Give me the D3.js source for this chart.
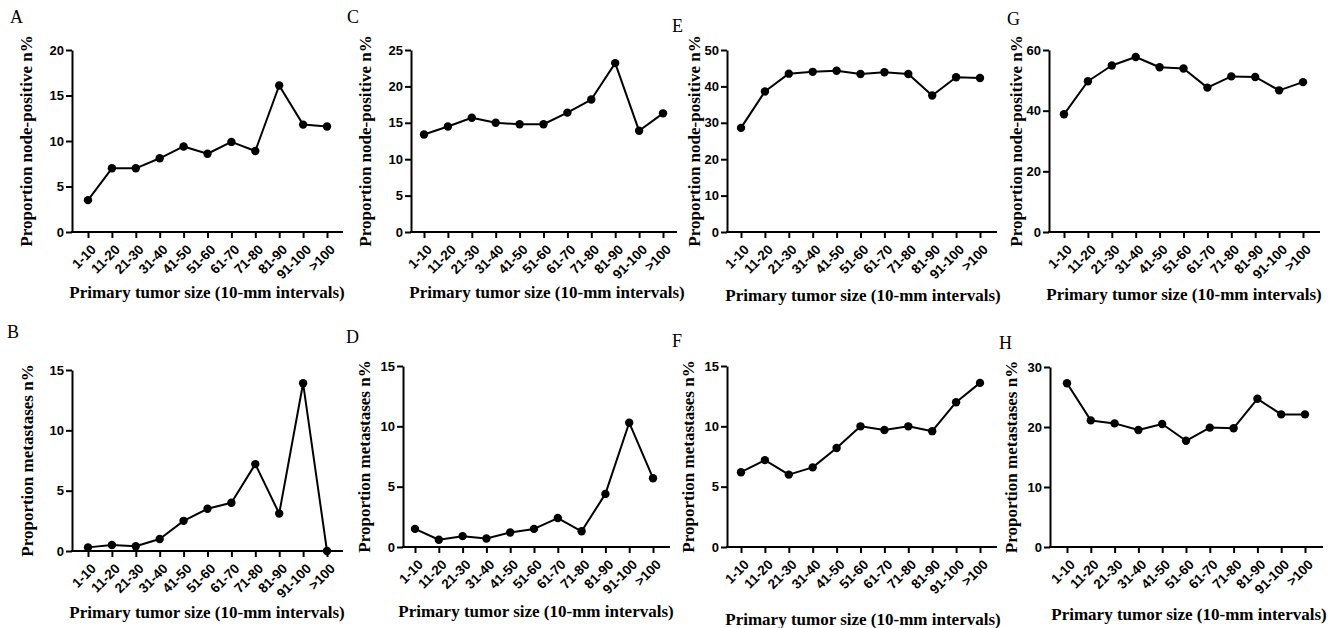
<!DOCTYPE html>
<html>
<head>
<meta charset="utf-8">
<script src="https://cdn.jsdelivr.net/npm/d3@7"></script>
<style>
  html, body { margin: 0; padding: 0; background: #fff; }
  svg { display: block; }
</style>
</head>
<body>
<svg id="chart" width="1344" height="628"></svg>
<script>
// ---------- DATA ----------
const categories = ["1-10", "11-20", "21-30", "31-40", "41-50", "51-60", "61-70", "71-80", "81-90", "91-100", ">100"];

const nodeA = [3.5, 7.0, 7.0, 8.1, 9.4, 8.6, 9.9, 8.9, 16.1, 11.8, 11.6];
const metB  = [0.3, 0.5, 0.4, 1.0, 2.5, 3.5, 4.0, 7.2, 3.1, 13.9, 0.0];
const nodeC = [13.4, 14.5, 15.7, 15.0, 14.8, 14.8, 16.4, 18.2, 23.2, 13.9, 16.3];
const metD  = [1.5, 0.6, 0.9, 0.7, 1.2, 1.5, 2.4, 1.3, 4.4, 10.3, 5.7];
const nodeE = [28.6, 38.6, 43.5, 44.0, 44.3, 43.4, 43.9, 43.4, 37.5, 42.5, 42.3];
const metF  = [6.2, 7.2, 6.0, 6.6, 8.2, 10.0, 9.7, 10.0, 9.6, 12.0, 13.6];
const nodeG = [38.8, 49.7, 54.9, 57.7, 54.3, 53.9, 47.6, 51.3, 51.1, 46.7, 49.4];
const metH  = [27.3, 21.1, 20.6, 19.5, 20.5, 17.7, 19.9, 19.8, 24.7, 22.1, 22.1];

const ticksA = [0, 5, 10, 15, 20];
const ticksB = [0, 5, 10, 15];
const ticksC = [0, 5, 10, 15, 20, 25];
const ticksD = [0, 5, 10, 15];
const ticksE = [0, 10, 20, 30, 40, 50];
const ticksF = [0, 5, 10, 15];
const ticksG = [0, 20, 40, 60];
const ticksH = [0, 10, 20, 30];

const yTitleNode = "Proportion node-positive n%";
const yTitleMet = "Proportion metastases n%";
const xTitle = "Primary tumor size (10-mm intervals)";

// ---------- LAYOUT ----------
const panels = [
  { letter: "A", values: nodeA, ticks: ticksA, yTitle: yTitleNode,
    x0: 72, x1: 88, x2: 327, xEnd: 343, yTop: 50, yBot: 232,
    yTitleX: 26, xTitleX: 207, xTitleY: 298, letterX: 10, letterY: 23 },
  { letter: "C", values: nodeC, ticks: ticksC, yTitle: yTitleNode,
    x0: 411, x1: 424, x2: 663, xEnd: 677, yTop: 50, yBot: 232,
    yTitleX: 365, xTitleX: 547, xTitleY: 298, letterX: 347, letterY: 23 },
  { letter: "E", values: nodeE, ticks: ticksE, yTitle: yTitleNode,
    x0: 727, x1: 741, x2: 980, xEnd: 997, yTop: 50, yBot: 232,
    yTitleX: 694, xTitleX: 863, xTitleY: 301, letterX: 672, letterY: 32 },
  { letter: "G", values: nodeG, ticks: ticksG, yTitle: yTitleNode,
    x0: 1049, x1: 1064, x2: 1303, xEnd: 1320, yTop: 50, yBot: 232,
    yTitleX: 1016, xTitleX: 1184, xTitleY: 300, letterX: 1007, letterY: 25 },
  { letter: "B", values: metB, ticks: ticksB, yTitle: yTitleMet,
    x0: 72, x1: 88, x2: 327, xEnd: 343, yTop: 370, yBot: 551,
    yTitleX: 27, xTitleX: 207, xTitleY: 618, letterX: 7, letterY: 338 },
  { letter: "D", values: metD, ticks: ticksD, yTitle: yTitleMet,
    x0: 403, x1: 415, x2: 653, xEnd: 670, yTop: 366, yBot: 547,
    yTitleX: 364, xTitleX: 536, xTitleY: 617, letterX: 346, letterY: 343 },
  { letter: "F", values: metF, ticks: ticksF, yTitle: yTitleMet,
    x0: 727, x1: 741, x2: 980, xEnd: 997, yTop: 366, yBot: 547,
    yTitleX: 688, xTitleX: 863, xTitleY: 625, letterX: 672, letterY: 347 },
  { letter: "H", values: metH, ticks: ticksH, yTitle: yTitleMet,
    x0: 1050, x1: 1067, x2: 1305, xEnd: 1323, yTop: 367, yBot: 547,
    yTitleX: 1011, xTitleX: 1189, xTitleY: 620, letterX: 999, letterY: 349 }
];

const svg = d3.select("#chart");
const sans = "'Liberation Sans', Arial, sans-serif";
const serif = "'Liberation Serif', 'Times New Roman', serif";

panels.forEach(p => {
  const g = svg.append("g");
  const yMax = d3.max(p.ticks);
  const x = d3.scalePoint().domain(categories).range([p.x1, p.x2]);
  const y = d3.scaleLinear().domain([0, yMax]).range([p.yBot, p.yTop]);

  // y axis
  const ya = g.append("g")
    .attr("transform", `translate(${p.x0},0)`)
    .call(d3.axisLeft(y).tickValues(p.ticks).tickSize(6).tickSizeOuter(0).tickPadding(2));
  ya.select(".domain").attr("stroke", "#000").attr("stroke-width", 2);
  ya.selectAll(".tick line").attr("stroke", "#000").attr("stroke-width", 2);
  ya.selectAll(".tick text")
    .attr("fill", "#000")
    .style("font-family", sans).style("font-size", "13px").style("font-weight", "bold");

  // x axis
  const xa = g.append("g")
    .attr("transform", `translate(0,${p.yBot})`)
    .call(d3.axisBottom(x).tickSize(6).tickSizeOuter(0));
  xa.select(".domain").remove();
  xa.append("line")
    .attr("x1", p.x0 - 1).attr("x2", p.xEnd)
    .attr("y1", 0).attr("y2", 0)
    .attr("stroke", "#000").attr("stroke-width", 2);
  xa.selectAll(".tick line").attr("stroke", "#000").attr("stroke-width", 2);
  xa.selectAll(".tick text")
    .attr("fill", "#000")
    .attr("text-anchor", "end")
    .attr("x", 0).attr("y", 0).attr("dy", "0.35em")
    .attr("transform", "translate(5,15) rotate(-45)")
    .style("font-family", sans).style("font-size", "13.5px").style("font-weight", "bold");

  // line
  const line = d3.line()
    .x((d, i) => x(categories[i]))
    .y(d => y(d));
  g.append("path")
    .datum(p.values)
    .attr("d", line)
    .attr("fill", "none")
    .attr("stroke", "#000")
    .attr("stroke-width", 2)
    .attr("stroke-linejoin", "round");

  g.selectAll("circle.pt")
    .data(p.values)
    .join("circle")
    .attr("class", "pt")
    .attr("cx", (d, i) => x(categories[i]))
    .attr("cy", d => y(d))
    .attr("r", 4.2)
    .attr("fill", "#000");

  // y title
  g.append("text")
    .attr("transform", `translate(${p.yTitleX},${(p.yTop + p.yBot) / 2}) rotate(-90)`)
    .attr("text-anchor", "middle")
    .attr("dy", "0.35em")
    .style("font-family", serif).style("font-size", "17px").style("font-weight", "bold")
    .text(p.yTitle);

  // x title
  g.append("text")
    .attr("x", p.xTitleX).attr("y", p.xTitleY)
    .attr("text-anchor", "middle")
    .style("font-family", serif).style("font-size", "17px").style("font-weight", "bold")
    .text(xTitle);

  // panel letter
  g.append("text")
    .attr("x", p.letterX).attr("y", p.letterY)
    .style("font-family", serif).style("font-size", "18px")
    .text(p.letter);
});
</script>
</body>
</html>
